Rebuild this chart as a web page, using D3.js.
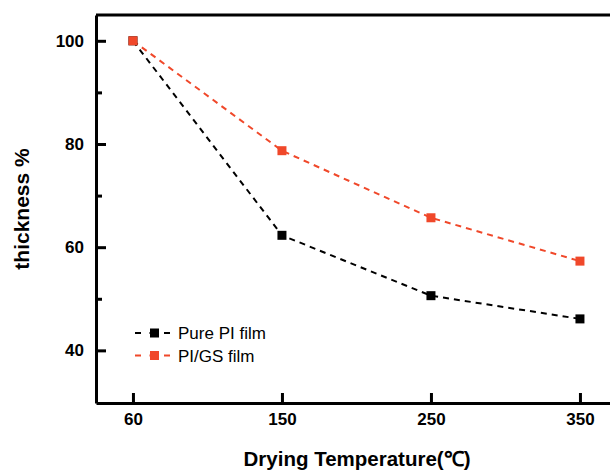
<!DOCTYPE html>
<html>
<head>
<meta charset="utf-8">
<script src="https://cdn.jsdelivr.net/npm/d3@7"></script>
<style>
    body { margin: 0; background: #fff; }
    svg { display: block; font-family: "Liberation Sans", Arial, sans-serif; }
    .axis path, .axis line { stroke: #000; }
</style>
</head>
<body>
<svg id="chart" width="610" height="472"></svg>
<script>
// Daten
const temperatures = ['60', '150', '250', '350'];
const purePI = [100, 62.3, 50.6, 46.1];
const piGS = [100, 78.7, 65.7, 57.3];
const yMajorTicks = [40, 60, 80, 100];
const yMinorTicks = [50, 70, 90];

const series = [
    { name: 'Pure PI film', values: purePI, color: '#000000' },
    { name: 'PI/GS film', values: piGS, color: '#f0482a' }
];

const FONT = '"Liberation Sans", Arial, sans-serif';
const svg = d3.select('#chart');

// Plotbereich (rechter Rand liegt ausserhalb des Bildes)
const plotLeft = 96, plotTop = 15, plotRight = 625, plotBottom = 403;

// Skalen
const xScale = d3.scaleLinear()
    .domain([-0.248, 3.3])
    .range([plotLeft, plotLeft + (3.3 + 0.248) * 149]);

const yScale = d3.scaleLinear()
    .domain([29.8, 105.0])
    .range([plotBottom, plotTop]);

// Rahmen oben / rechts
svg.append('path')
    .attr('d', `M${plotLeft},${plotTop}H${plotRight}V${plotBottom}`)
    .attr('fill', 'none')
    .attr('stroke', '#000')
    .attr('stroke-width', 3);

// Y-Achse (Haupt- und Nebenstriche nach innen)
const yAxis = svg.append('g')
    .attr('class', 'axis')
    .attr('transform', `translate(${plotLeft},0)`)
    .call(d3.axisLeft(yScale).tickValues(yMajorTicks).tickSizeInner(-10).tickSizeOuter(0).tickPadding(12));
yAxis.select('.domain').attr('stroke-width', 3);
yAxis.selectAll('.tick line').attr('stroke-width', 3);
yAxis.selectAll('.tick text')
    .style('font-family', FONT)
    .style('font-size', '17px')
    .style('font-weight', 'bold')
    .attr('fill', '#000');

svg.append('g')
    .attr('class', 'axis')
    .attr('transform', `translate(${plotLeft},0)`)
    .call(d3.axisLeft(yScale).tickValues(yMinorTicks).tickSizeInner(-6).tickSizeOuter(0).tickFormat(''))
    .call(g => g.select('.domain').remove())
    .selectAll('.tick line').attr('stroke-width', 3);

// X-Achse
const xAxis = svg.append('g')
    .attr('class', 'axis')
    .attr('transform', `translate(0,${plotBottom})`)
    .call(d3.axisBottom(xScale)
        .tickValues(d3.range(temperatures.length))
        .tickFormat(i => temperatures[i])
        .tickSizeInner(-10).tickSizeOuter(0).tickPadding(10));
xAxis.select('.domain').attr('stroke-width', 3);
xAxis.selectAll('.tick line').attr('stroke-width', 3);
xAxis.selectAll('.tick text')
    .style('font-family', FONT)
    .style('font-size', '17px')
    .style('font-weight', 'bold')
    .attr('fill', '#000');

// Achsentitel
svg.append('text')
    .attr('transform', `translate(29,${(plotTop + plotBottom) / 2}) rotate(-90)`)
    .attr('text-anchor', 'middle')
    .style('font-size', '21px')
    .style('font-weight', 'bold')
    .text('thickness %');

svg.append('text')
    .attr('x', 357)
    .attr('y', 466)
    .attr('text-anchor', 'middle')
    .style('font-size', '20.5px')
    .style('font-weight', 'bold')
    .text('Drying Temperature(℃)');

// Linien und Marker
const line = d3.line()
    .x((d, i) => xScale(i))
    .y(d => yScale(d));

series.slice().reverse().forEach(s => {
    svg.append('path')
        .datum(s.values)
        .attr('fill', 'none')
        .attr('stroke', s.color)
        .attr('stroke-width', 2)
        .attr('stroke-dasharray', '6,5')
        .attr('d', line);
});

series.forEach(s => {
    svg.selectAll(null)
        .data(s.values)
        .enter()
        .append('rect')
        .attr('x', (d, i) => xScale(i) - 4.5)
        .attr('y', d => yScale(d) - 4.5)
        .attr('width', 9)
        .attr('height', 9)
        .attr('fill', s.color);
});

// Legende
const legend = svg.append('g')
    .attr('transform', 'translate(135,333)');

series.forEach((s, i) => {
    const row = legend.append('g').attr('transform', `translate(0,${i * 22.5})`);
    row.append('line')
        .attr('x1', 0).attr('x2', 37)
        .attr('stroke', s.color)
        .attr('stroke-width', 2)
        .attr('stroke-dasharray', '6,8.5');
    row.append('rect')
        .attr('x', 15).attr('y', -4.5)
        .attr('width', 9).attr('height', 9)
        .attr('fill', s.color);
    row.append('text')
        .attr('x', 43)
        .attr('y', 6)
        .style('font-size', '17px')
        .text(s.name);
});
</script>
</body>
</html>
